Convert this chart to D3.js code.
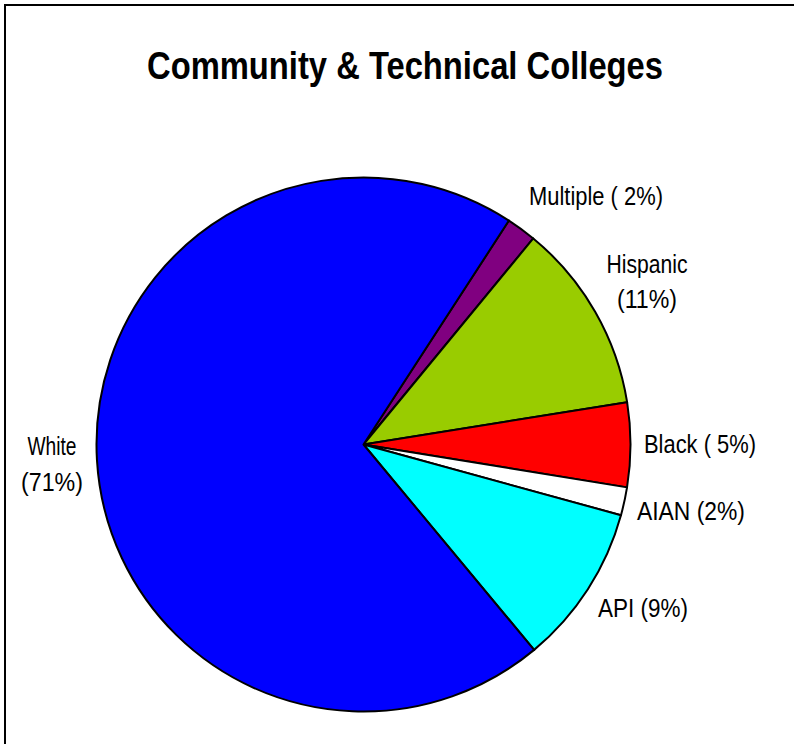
<!DOCTYPE html>
<html><head><meta charset="utf-8">
<script src="https://cdn.jsdelivr.net/npm/d3@7/dist/d3.min.js"></script>
<style>
html,body{margin:0;padding:0;background:#fff;}
svg{display:block;}
text{font-family:"Liberation Sans Narrow","Arial Narrow","Liberation Sans",Arial,sans-serif;fill:#000;}
</style></head>
<body>
<script>
// Data (order clockwise starting from the slice near 12 o'clock)
const categories = ["Multiple", "Hispanic", "Black", "AIAN", "API", "White"];
const values = [1.8, 11.5, 5.1, 1.7, 9.7, 70.2];
const labelPercents = ["( 2%)", "(11%)", "( 5%)", "(2%)", "(9%)", "(71%)"];
const colors = ["#800080", "#99CC00", "#FF0000", "#FFFFFF", "#00FFFF", "#0000FF"];

const W = 794, H = 744;
const svg = d3.select("body").append("svg").attr("width", W).attr("height", H);

// frame
svg.append("rect").attr("x", 5).attr("y", 5).attr("width", 820).attr("height", 820)
  .attr("fill", "#fff").attr("stroke", "#000").attr("stroke-width", 2);

// title
svg.append("text").attr("x", 405).attr("y", 79).attr("text-anchor", "middle")
  .attr("font-size", 38).attr("font-weight", "bold")
  .attr("textLength", 516).attr("lengthAdjust", "spacingAndGlyphs")
  .text("Community & Technical Colleges");

const cx = 363.5, cy = 444.5, R = 267;
const startDeg = 33;
const pie = d3.pie().sort(null).value(d => d.v)
  .startAngle(startDeg * Math.PI / 180)
  .endAngle((startDeg + 360) * Math.PI / 180);
const data = categories.map((c, i) => ({c, v: values[i], col: colors[i], p: labelPercents[i]}));
const arcs = pie(data);
const arc = d3.arc().innerRadius(0).outerRadius(R);

const g = svg.append("g").attr("transform", `translate(${cx},${cy})`);
g.selectAll("path").data(arcs).join("path")
  .attr("d", arc).attr("fill", d => d.data.col)
  .attr("stroke", "#000").attr("stroke-width", 2).attr("stroke-linejoin", "round");

// label layout (text placement only)
const labelLayout = {
  "Multiple": {x: 596, lines: [{y: 205, t: d => d.c + " " + d.p, w: 134}]},
  "Hispanic": {x: 647, lines: [{y: 273, t: d => d.c, w: 81}, {y: 308, t: d => d.p, w: 60}]},
  "Black":    {x: 700, lines: [{y: 453, t: d => d.c + " " + d.p, w: 112}]},
  "AIAN":     {x: 691, lines: [{y: 520, t: d => d.c + " " + d.p, w: 108}]},
  "API":      {x: 643, lines: [{y: 617, t: d => d.c + " " + d.p, w: 90}]},
  "White":    {x: 52,  lines: [{y: 455, t: d => d.c, w: 49}, {y: 491, t: d => d.p, w: 62}]}
};
arcs.forEach(a => {
  const L = labelLayout[a.data.c];
  L.lines.forEach(line => {
    svg.append("text").attr("x", L.x).attr("y", line.y).attr("text-anchor", "middle")
      .attr("font-size", 25)
      .attr("textLength", line.w).attr("lengthAdjust", "spacingAndGlyphs")
      .text(line.t(a.data));
  });
});
</script>
</body></html>
